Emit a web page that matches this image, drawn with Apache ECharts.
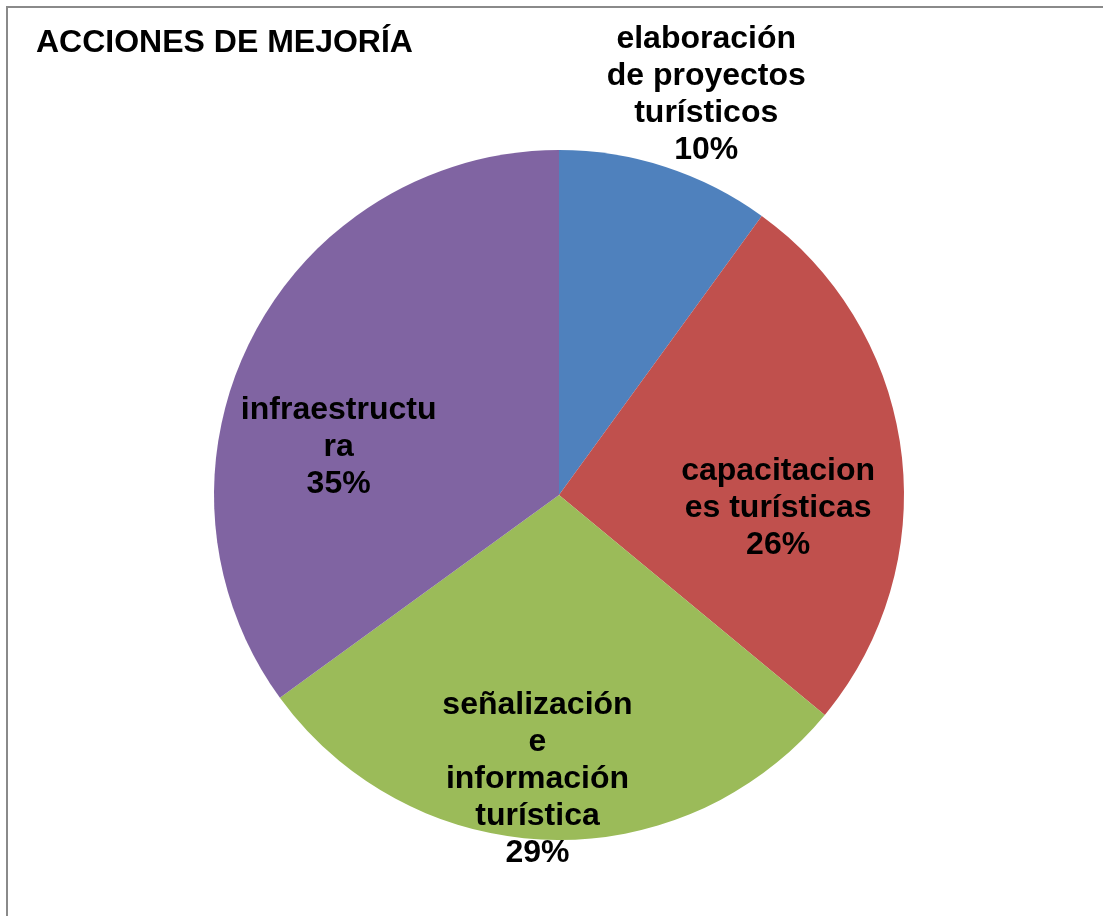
<!DOCTYPE html>
<html>
<head>
<meta charset="utf-8">
<script src="https://cdn.jsdelivr.net/npm/echarts@6/dist/echarts.min.js"></script>
<style>
  html, body { margin: 0; padding: 0; background: #fff; }
  #chart { width: 1103px; height: 916px; }
</style>
</head>
<body>
<div id="chart"></div>
<script>
// datos del grafico
var titulo = 'ACCIONES DE MEJORÍA';
var acciones = ['elaboración de proyectos turísticos', 'capacitaciones turísticas', 'señalización e información turística', 'infraestructura'];
var etiquetas = ['elaboración\nde proyectos\nturísticos', 'capacitacion\nes turísticas', 'señalización\ne\ninformación\nturística', 'infraestructu\nra'];
var valores = [10, 26, 29, 35];
var colores = ['#4F81BD', '#C0504D', '#9BBB59', '#8064A2'];

// desplazamiento de cada etiqueta respecto a su sitio por defecto
var desplaza = [[93, -233], [45, 35], [-16, 109], [-64, 32]];

var datos = [];
for (var i = 0; i < acciones.length; i++) {
    datos.push({ name: acciones[i], value: valores[i], itemStyle: { color: colores[i] } });
}

var option = {
    backgroundColor: '#fff',
    animation: false,
    title: {
        text: titulo,
        left: 36,
        top: 27,
        padding: 0,
        textStyle: { fontFamily: 'Liberation Sans, Arial', fontSize: 32, fontWeight: 'bold', color: '#000' }
    },
    graphic: [{
        type: 'rect',
        shape: { x: 7, y: 7, width: 1200, height: 1000 },
        style: { fill: 'none', stroke: '#8a8a8a', lineWidth: 2 },
        silent: true
    }],
    series: [{
        type: 'pie',
        center: [559, 495],
        radius: 345,
        startAngle: 90,
        clockwise: true,
        data: datos,
        itemStyle: { borderWidth: 0 },
        label: {
            position: 'inside',
            formatter: function (p) {
                return etiquetas[p.dataIndex] + '\n' + p.value + '%';
            },
            fontFamily: 'Liberation Sans, Arial',
            fontSize: 32,
            fontWeight: 'bold',
            lineHeight: 37,
            color: '#000',
            align: 'center'
        },
        labelLine: { show: false },
        labelLayout: function (p) {
            var d = desplaza[p.dataIndex];
            return { dx: d[0], dy: d[1] };
        },
        emphasis: { disabled: true }
    }]
};

echarts.init(document.getElementById('chart')).setOption(option);
</script>
</body>
</html>
